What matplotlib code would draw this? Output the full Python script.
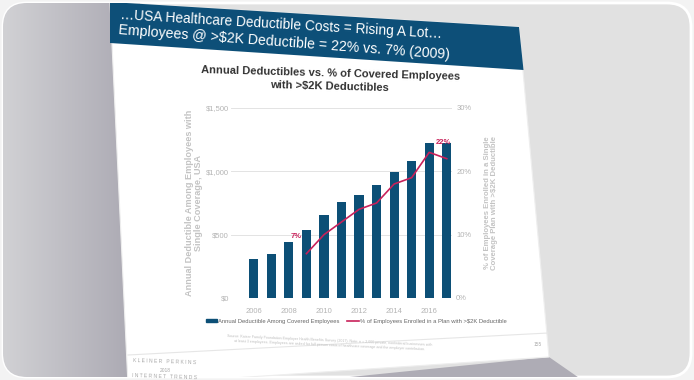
import numpy as np
import matplotlib
matplotlib.use("Agg")
import matplotlib.pyplot as plt
from matplotlib.patches import Polygon, FancyBboxPatch
from matplotlib.lines import Line2D
from matplotlib.patches import Patch
from matplotlib.colors import LinearSegmentedColormap

# ---------------- data ----------------
years = [2006, 2007, 2008, 2009, 2010, 2011, 2012, 2013, 2014, 2015, 2016, 2017]
deductible = [310, 350, 440, 540, 655, 755, 810, 890, 995, 1085, 1220, 1225]
pct_years = [2009, 2010, 2011, 2012, 2013, 2014, 2015, 2016, 2017]
pct_over_2k = [7, 10, 12, 14, 15, 18, 19, 23, 22]
left_ticks = [0, 500, 1000, 1500]
left_ticklabels = ["$0", "$500", "$1,000", "$1,500"]
right_ticks = [0, 10, 20, 30]
right_ticklabels = ["0%", "10%", "20%", "30%"]
xtick_years = [2006, 2008, 2010, 2012, 2014, 2016]

BAR = "#0c4f76"
LINE = "#c8215a"
HEAD = "#0d4f78"
GRAYTXT = "#b4b4b4"

plt.rcParams['font.family'] = ['Liberation Sans', 'DejaVu Sans']

W, H = 694, 380
fig = plt.figure(figsize=(W / 100, H / 100), dpi=100)
fig.patch.set_facecolor("#f3f3f3")

# ---------------- background (pixel coords) ----------------
bg = fig.add_axes([0, 0, 1, 1])
bg.set_xlim(0, W)
bg.set_ylim(H, 0)
bg.axis("off")

card = FancyBboxPatch((3, 3), W - 6, H - 6, boxstyle="round,pad=0,rounding_size=24",
                      fc="#e1e1e1", ec="white", lw=2, zorder=1)
bg.add_patch(card)
grad = np.linspace(0, 1, 256)[None, :]
cm = LinearSegmentedColormap.from_list("g", ["#d2d2d5", "#a9a7b1"])
im = bg.imshow(grad, cmap=cm, extent=(0, 140, H, 0), aspect="auto", zorder=2)
im.set_clip_path(card)

# shadow under slide
sh = Polygon([(300, 382), (549, 357), (585, 382)], closed=True, fc="#aeacb5", ec="none", zorder=2)
bg.add_patch(sh)
sh.set_clip_path(card)

# slide
slide = Polygon([(110, 2), (519, 27), (549, 357), (128, 385)], closed=True,
                fc="white", ec="#eeeeee", lw=0.8, zorder=3)
bg.add_patch(slide)
slide.set_clip_path(card)
header = Polygon([(110, 2), (519, 27), (523.5, 70), (110, 43)], closed=True,
                 fc=HEAD, ec="none", zorder=4)
bg.add_patch(header)
header.set_clip_path(card)
# footer separator
bg.plot([128, 548], [355, 333], color="#e6e6e6", lw=0.8, zorder=4)

bg.text(120, 15, "\u2026USA Healthcare Deductible Costs = Rising A Lot\u2026", color="white",
        fontsize=9.9, rotation=-3.4, rotation_mode="anchor", ha="left", va="center", zorder=5)
bg.text(119, 30, "Employees @ >$2K Deductible = 22% vs. 7% (2009)", color="white",
        fontsize=10.2, rotation=-4.3, rotation_mode="anchor", ha="left", va="center", zorder=5)

bg.text(330, 80, "Annual Deductibles vs. % of Covered Employees\nwith >$2K Deductibles",
        color="#333333", fontsize=8, fontweight="bold", ha="center", va="center",
        linespacing=1.45, rotation=-1.5, zorder=5)

bg.text(330, 343, "Source: Kaiser Family Foundation Employer Health Benefits Survey (2017). Note: n = 2,000 private, nonfederal businesses with\n"
        "at least 3 employees. Employees are asked for full person costs of healthcare coverage and the employer contribution.",
        color="#bdbdbd", fontsize=2.6, ha="center", va="center", rotation=-2.5, zorder=5)
bg.text(538, 345, "155", color="#aaaaaa", fontsize=3.5, ha="center", va="center", zorder=5)
bg.text(165, 362, "K L E I N E R   P E R K I N S", color="#a8a8a8", fontsize=3.6, ha="center", va="center",
        rotation=-2, zorder=5)
bg.text(165, 370, "2018", color="#a8a8a8", fontsize=3.5, ha="center", va="center", zorder=5)
bg.text(165, 377, "I N T E R N E T   T R E N D S", color="#a8a8a8", fontsize=3.6, ha="center", va="center",
        rotation=-2, zorder=5)

# ---------------- chart ----------------
ax = fig.add_axes([231 / W, (H - 298) / H, 221 / W, 190 / H], zorder=10)
ax.patch.set_alpha(0)
ax.bar(years, deductible, width=0.52, color=BAR, zorder=3)
ax.set_xlim(2004.7, 2017.3)
ax.set_ylim(0, 1500)
ax.set_yticks(left_ticks)
ax.set_yticklabels(left_ticklabels)
ax.set_xticks(xtick_years)
ax.set_xticklabels([str(y) for y in xtick_years])
ax.grid(axis="y", color="#e3e3e3", lw=0.7, zorder=0)
for s in ax.spines.values():
    s.set_visible(False)
ax.tick_params(axis="x", length=0, labelsize=5.5, colors=GRAYTXT, pad=7)
ax.tick_params(axis="y", length=0, labelsize=5.5, colors=GRAYTXT, pad=1.5)
ax.set_ylabel("Annual Deductible Among Employees with\nSingle Coverage, USA", color="#c3c3c3",
              fontsize=6.6, fontweight="bold", labelpad=2, linespacing=1.0)

ax2 = ax.twinx()
ax2.set_ylim(0, 30)
ax2.plot(pct_years, pct_over_2k, color=LINE, lw=1.2, zorder=5)
ax2.set_yticks(right_ticks)
ax2.set_yticklabels(right_ticklabels)
for s in ax2.spines.values():
    s.set_visible(False)
ax2.tick_params(axis="y", length=0, labelsize=5.5, colors=GRAYTXT, pad=3)
ax2.set_ylabel("% of Employees Enrolled in a Single\nCoverage Plan with >$2K Deductible", color="#c3c3c3",
               fontsize=5.6, fontweight="bold", labelpad=9, linespacing=1.0)
ax2.annotate(f"{pct_over_2k[0]}%", (pct_years[0], pct_over_2k[0]), xytext=(-7, 12),
             textcoords="offset points", color=LINE, fontsize=5.5, fontweight="bold",
             ha="center", va="center")
ax2.annotate(f"{pct_over_2k[-1]}%", (pct_years[-1], pct_over_2k[-1]), xytext=(-2, 12),
             textcoords="offset points", color=LINE, fontsize=5.5, fontweight="bold",
             ha="center", va="center")

handles = [Patch(color=BAR, label="Annual Deductible Among Covered Employees"),
           Line2D([0], [0], color=LINE, lw=1.2, label="% of Employees Enrolled in a Plan with >$2K Deductible")]
fig.legend(handles=handles, loc="center", bbox_to_anchor=(356 / W, (H - 321) / H), ncol=2,
           frameon=False, fontsize=4.2, labelcolor="#666666", handlelength=2.0,
           handleheight=0.5, columnspacing=1.2, handletextpad=0.2)

fig.savefig("out.png", dpi=100, facecolor=fig.get_facecolor())
